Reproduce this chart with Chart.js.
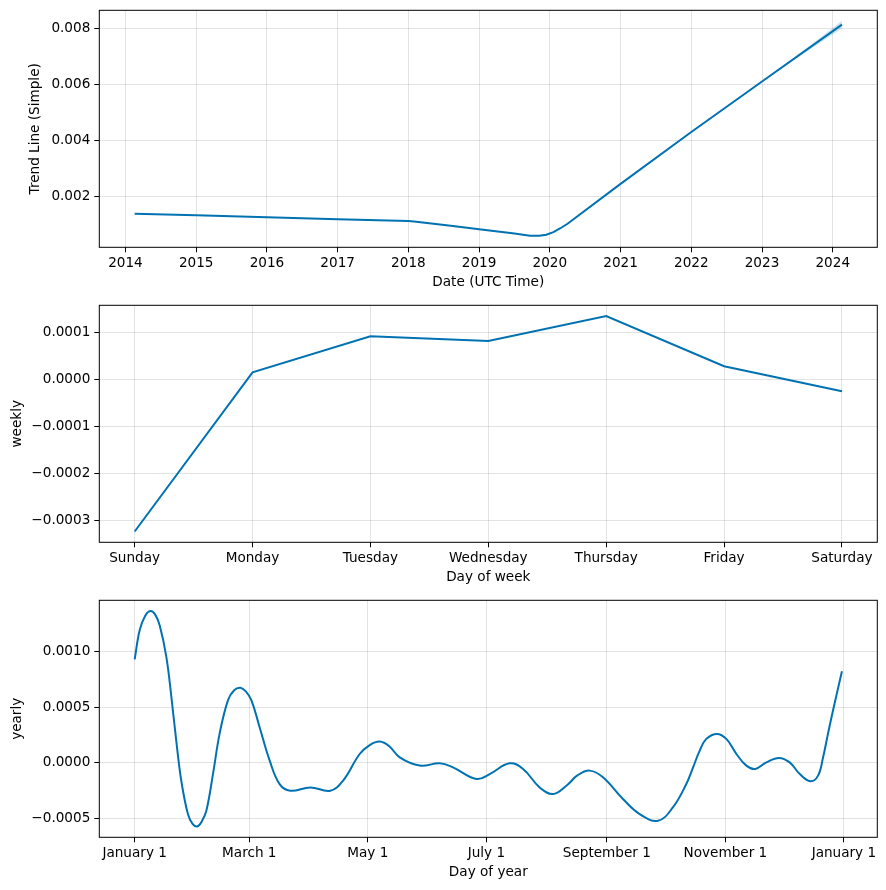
<!DOCTYPE html>
<html>
<head>
<meta charset="utf-8">
<script src="https://cdn.jsdelivr.net/npm/chart.js@4.4.1/dist/chart.umd.min.js"></script>
<style>
  body { margin: 0; background: #fff; }
  #wrap { position: relative; width: 886px; height: 890px; background: #fff; }
  canvas { position: absolute; left: 0; }
</style>
</head>
<body>
<div id="wrap">
  <canvas id="trendChart" width="886" height="295" style="top:0px"></canvas>
  <canvas id="weeklyChart" width="886" height="295" style="top:295px"></canvas>
  <canvas id="yearlyChart" width="886" height="295" style="top:590px"></canvas>
</div>
<script>
// trend component (x = fractional year)
const trendYears = [2014.13, 2015.0, 2016.0, 2017.0, 2018.0, 2018.08, 2018.6, 2019.0, 2019.5, 2019.72, 2019.85, 2019.95, 2020.05, 2020.15, 2020.25, 2021.0, 2022.0, 2023.0, 2024.13];
const trendValues = [0.00139, 0.00133, 0.00126, 0.00119, 0.00113, 0.00111, 0.00096, 0.00083, 0.00068, 0.00060, 0.00060, 0.00064, 0.00073, 0.00087, 0.00103, 0.00245, 0.00430, 0.00610, 0.00813];
const bandYears = [2023.0, 2023.4, 2023.8, 2024.13];
const bandUpper = [0.00610, 0.00686, 0.00763, 0.00827];
const bandLower = [0.00610, 0.00678, 0.00745, 0.00799];
const trendTicksX = [2014, 2015, 2016, 2017, 2018, 2019, 2020, 2021, 2022, 2023, 2024];
const trendTicksY = [0.002, 0.004, 0.006, 0.008];

// weekly component
const weekDays = ['Sunday', 'Monday', 'Tuesday', 'Wednesday', 'Thursday', 'Friday', 'Saturday'];
const weeklyValues = [-0.000323, 0.0000155, 0.000092, 0.000082, 0.000135, 0.0000283, -0.0000249];
const weeklyTicksY = [-0.0003, -0.0002, -0.0001, 0, 0.0001];

// yearly component (x = day of year)
const yearlyDays = [0, 2.6, 5.5, 8.1, 10.5, 12.9, 16.3, 18.9, 21.4, 24, 27.4, 29.8, 32.2, 34.5, 36.9, 40.3, 43.7, 48, 51.2, 54.4, 57.2, 60.1, 64.3, 69.5, 74.6, 80.1, 90.4, 100.7, 107.2, 115.8, 121, 126.1, 131, 136.4, 146.7, 157, 163.8, 175.9, 182.7, 193, 199.9, 208.4, 215.3, 222.2, 228, 234.2, 241, 251.3, 259.9, 269.3, 277, 283.9, 287.4, 290.8, 294.2, 299.7, 304.5, 309.7, 314.8, 319.4, 325.1, 331.6, 337.1, 342.3, 347.7, 351.7, 354.3, 356.8, 359.4, 364];
const yearlyValues = [0.000927, 0.00119, 0.00132, 0.00136, 0.00133, 0.00123, 0.00095, 0.00059, 0.0002, -0.00016, -0.000458, -0.000545, -0.000569, -0.000525, -0.000428, -0.0001, 0.00026, 0.00056, 0.00065, 0.000673, 0.00064, 0.00056, 0.00032, 0.00002, -0.00019, -0.000249, -0.000219, -0.000249, -0.00016, 0.00008, 0.00016, 0.000191, 0.00015, 0.00005, -0.000024, -0.000004, -0.00004, -0.000144, -0.0001, -0.000004, -0.000054, -0.000219, -0.000279, -0.000204, -0.00011, -0.000069, -0.000129, -0.000323, -0.000458, -0.000518, -0.000398, -0.000189, -0.00004, 0.00011, 0.000215, 0.00026, 0.000215, 0.00008, -0.000024, -0.000054, 0.000005, 0.000045, 0.000005, -0.0001, -0.000165, -0.000114, 0.00005, 0.00026, 0.00047, 0.00082];
const monthTickDays = [0, 59, 120, 181, 243, 304, 365];
const monthTickLabels = ['January 1', 'March 1', 'May 1', 'July 1', 'September 1', 'November 1', 'January 1'];
const yearlyTicksY = [-0.0005, 0, 0.0005, 0.001];

const lineColor = '#0072B2';
const font = { family: 'DejaVu Sans', size: 13.6 };

Chart.defaults.font = font;
Chart.defaults.color = '#000';
Chart.defaults.animation = false;

const framePlugin = {
    id: 'frame',
    afterDraw(chart) {
        const { ctx, chartArea: a } = chart;
        ctx.save();
        ctx.strokeStyle = '#000';
        ctx.lineWidth = 1;
        ctx.strokeRect(a.left, a.top, a.right - a.left, a.bottom - a.top);
        ctx.restore();
    }
};

function toPoints(xs, ys) {
    return xs.map((x, i) => ({ x: x, y: ys[i] }));
}

function fmt(digits) {
    return v => v.toFixed(digits).replace('-', '\u2212');
}

function makeOptions(opts) {
    return {
        responsive: false,
        animation: false,
        layout: { padding: { top: 10.3, right: 8.7, bottom: 0, left: 0 } },
        plugins: { legend: { display: false }, tooltip: { enabled: false } },
        scales: {
            x: {
                type: 'linear',
                min: opts.xMin,
                max: opts.xMax,
                afterBuildTicks: scale => { scale.ticks = opts.xTicks.map(v => ({ value: v })); },
                afterFit: scale => { scale.height = 47.7; scale.paddingLeft = 0; scale.paddingRight = 0; },
                grid: { color: 'rgba(128,128,128,0.22)', lineWidth: 1, tickColor: '#000', tickLength: 5 },
                border: { display: false },
                ticks: { padding: 3.5, maxRotation: 0, autoSkip: false, callback: opts.xLabel, font: font },
                title: { display: true, text: opts.xTitle, font: font, padding: { top: 0, bottom: 4 } }
            },
            y: {
                min: opts.yMin,
                max: opts.yMax,
                afterBuildTicks: scale => { scale.ticks = opts.yTicks.map(v => ({ value: v })); },
                afterFit: scale => { scale.width = 99.3; scale.paddingTop = 0; scale.paddingBottom = 0; },
                grid: { color: 'rgba(128,128,128,0.22)', lineWidth: 1, tickColor: '#000', tickLength: 5 },
                border: { display: false },
                ticks: { padding: 4, callback: opts.yLabel, font: font },
                title: { display: true, text: opts.yTitle, font: font, padding: { top: opts.yTitlePad, bottom: 0 } }
            }
        }
    };
}

new Chart(document.getElementById('trendChart').getContext('2d'), {
    type: 'line',
    data: {
        datasets: [
            {
                data: toPoints(trendYears, trendValues),
                borderColor: lineColor, borderWidth: 2, pointRadius: 0, tension: 0, fill: false
            },
            {
                data: toPoints(bandYears, bandUpper),
                borderColor: 'rgba(0,0,0,0)', borderWidth: 0, pointRadius: 0, fill: false
            },
            {
                data: toPoints(bandYears, bandLower),
                borderColor: 'rgba(0,0,0,0)', borderWidth: 0, pointRadius: 0,
                backgroundColor: 'rgba(0,114,178,0.2)', fill: '-1'
            }
        ]
    },
    options: makeOptions({
        xMin: 2013.63, xMax: 2024.63, xTicks: trendTicksX, xLabel: v => String(v), xTitle: 'Date (UTC Time)',
        yMin: 0.00019, yMax: 0.00864, yTicks: trendTicksY, yLabel: fmt(3), yTitle: 'Trend Line (Simple)', yTitlePad: 27
    }),
    plugins: [framePlugin]
});

new Chart(document.getElementById('weeklyChart').getContext('2d'), {
    type: 'line',
    data: {
        datasets: [{
            data: toPoints(weekDays.map((d, i) => i), weeklyValues),
            borderColor: lineColor, borderWidth: 2, pointRadius: 0, tension: 0, fill: false
        }]
    },
    options: makeOptions({
        xMin: -0.3, xMax: 6.3, xTicks: weekDays.map((d, i) => i), xLabel: v => weekDays[v], xTitle: 'Day of week',
        yMin: -0.000346, yMax: 0.000158, yTicks: weeklyTicksY, yLabel: fmt(4), yTitle: 'weekly', yTitlePad: 9.3
    }),
    plugins: [framePlugin]
});

new Chart(document.getElementById('yearlyChart').getContext('2d'), {
    type: 'line',
    data: {
        datasets: [{
            data: toPoints(yearlyDays, yearlyValues),
            borderColor: lineColor, borderWidth: 2, pointRadius: 0,
            tension: 0.4, fill: false
        }]
    },
    options: makeOptions({
        xMin: -18.2, xMax: 382.2, xTicks: monthTickDays,
        xLabel: v => monthTickLabels[monthTickDays.indexOf(v)], xTitle: 'Day of year',
        yMin: -0.000666, yMax: 0.001456, yTicks: yearlyTicksY, yLabel: fmt(4), yTitle: 'yearly', yTitlePad: 9.3
    }),
    plugins: [framePlugin]
});
</script>
</body>
</html>
